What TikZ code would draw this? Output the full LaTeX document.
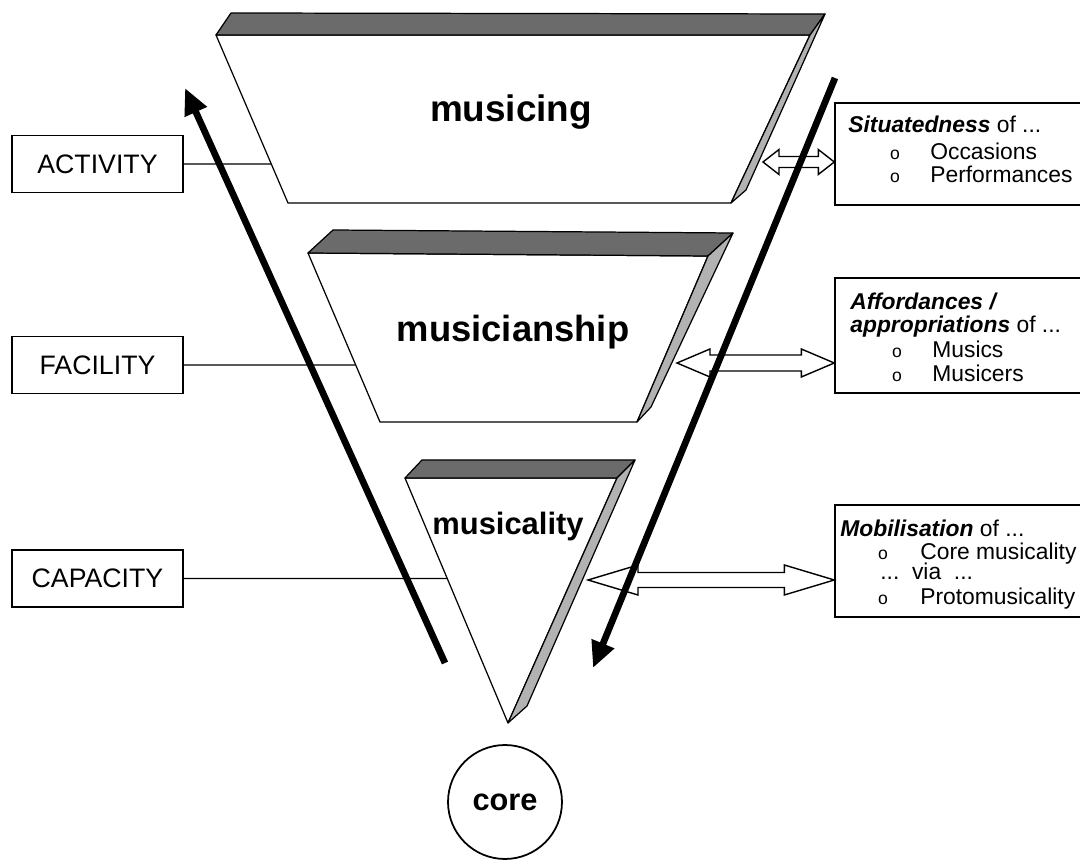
\documentclass[tikz,border=0pt]{standalone}
\usepackage{fontspec}
\setmainfont{Liberation Sans}
\usetikzlibrary{calc,arrows.meta,fit}

% hollow double-headed arrow: #1 left tip, #2 right tip, #3 head length,
% #4 half width of the heads, #5 half width of the shaft
\newcommand\hollowarrow[5]{%
  \draw[hollow] (#1) -- ($(#1)+(#3,-#4)$) -- ($(#1)+(#3,-#5)$)
    -- ($(#2)+(-#3,-#5)$) -- ($(#2)+(-#3,-#4)$) -- (#2)
    -- ($(#2)+(-#3,#4)$) -- ($(#2)+(-#3,#5)$)
    -- ($(#1)+(#3,#5)$) -- ($(#1)+(#3,#4)$) -- cycle;}

\begin{document}
\begin{tikzpicture}[x=0.02cm,y=-0.02cm,
  outline/.style={draw=black, line width=0.7pt, line join=round},
  topface/.style={outline, fill=black!58},
  sideface/.style={outline, fill=black!30},
  frontface/.style={outline, fill=white},
  levelbox/.style={draw, line width=0.8pt, minimum width=3.42cm,
    minimum height=1.14cm, inner sep=0pt, font=\fontsize{15.2pt}{18pt}\selectfont},
  infobox/.style={draw, line width=0.8pt, inner sep=0pt},
  tie/.style={line width=0.8pt},
  rtext/.style={anchor=base west, inner sep=0pt, font=\fontsize{13pt}{15pt}\selectfont},
  bullet/.style={anchor=center, inner sep=0pt, font=\fontsize{10pt}{12pt}\selectfont},
  flow/.style={line width=3.8pt, -{Triangle[length=15pt,width=13pt]}},
  hollow/.style={draw, line width=0.8pt, fill=white, line join=miter},
  slablabel/.style={anchor=base, inner sep=0pt, font=\bfseries\fontsize{#1}{#1}\selectfont},
]
\clip (0,0) rectangle (1080,861);

% ---------- musicing slab ----------
\coordinate (mA) at (216,35);  \coordinate (mB) at (810,35);
\coordinate (mC) at (731,203); \coordinate (mD) at (288,203);
\coordinate (mE) at (231,13);  \coordinate (mF) at (825,14);
\coordinate (mG) at (746,190);
\draw[frontface] (mA) -- (mB) -- (mC) -- (mD) -- cycle;
\draw[topface] (mA) -- (mE) -- (mF) -- (mB) -- cycle;
\draw[sideface] (mB) -- (mF) -- (mG) -- (mC) -- cycle;
\node[slablabel=21pt] (musicing) at (511,122) {musicing};

% ---------- musicianship slab ----------
\coordinate (pA) at (308,253); \coordinate (pB) at (708,256);
\coordinate (pC) at (637,422); \coordinate (pD) at (380,422);
\coordinate (pE) at (333,230); \coordinate (pF) at (733,233);
\coordinate (pG) at (651,407);
\draw[frontface] (pA) -- (pB) -- (pC) -- (pD) -- cycle;
\draw[topface] (pA) -- (pE) -- (pF) -- (pB) -- cycle;
\draw[sideface] (pB) -- (pF) -- (pG) -- (pC) -- cycle;
\node[slablabel=20.7pt] (musicianship) at (513,342) {musicianship};

% ---------- musicality wedge ----------
\coordinate (tA) at (405,478); \coordinate (tB) at (617,478);
\coordinate (tC) at (508,723);
\coordinate (tE) at (422,460); \coordinate (tF) at (635,460);
\coordinate (tG) at (527,706);
\draw[frontface] (tA) -- (tB) -- (tC) -- cycle;
\draw[topface] (tA) -- (tE) -- (tF) -- (tB) -- cycle;
\draw[sideface] (tB) -- (tF) -- (tG) -- (tC) -- cycle;
\node[slablabel=17.6pt] (musicality) at (508,535) {musicality};

% ---------- core ----------
\node[draw, circle, line width=1pt, minimum size=2.28cm, inner sep=0pt,
  font=\bfseries\fontsize{17.5pt}{20pt}\selectfont] (core) at (505,802) {core};

% ---------- level boxes on the left ----------
\node[levelbox] (activity) at (97.5,164) {ACTIVITY};
\node[levelbox] (facility) at (97.5,365) {FACILITY};
\node[levelbox] (capacity) at (97.5,578.5) {CAPACITY};
\draw[tie] (activity.east) -- (intersection of activity.west--activity.east and mA--mD);
\draw[tie] (facility.east) -- (intersection of facility.west--facility.east and pA--pD);
\draw[tie] (capacity.east) -- (intersection of capacity.west--capacity.east and tA--tC);

% ---------- information boxes on the right ----------
\node[infobox, fit={(835,103) (1095,205)}] (situ) {};
\node[rtext] (situH) at (848,133) {\textbf{\textit{Situatedness}} of ...};
\node[bullet] (situB1) at (895,154.5) {o};
\node[rtext] (situT1) at (930,160) {Occasions};
\node[bullet] (situB2) at (895,177.5) {o};
\node[rtext] (situT2) at (930,183) {Performances};

\node[infobox, fit={(835,278) (1095,393)}] (affo) {};
\node[rtext] (affoH1) at (850,310) {\textbf{\textit{Affordances /}}};
\node[rtext] (affoH2) at (850,333) {\textbf{\textit{appropriations}} of ...};
\node[bullet] (affoB1) at (897,352.5) {o};
\node[rtext] (affoT1) at (932,358) {Musics};
\node[bullet] (affoB2) at (897,376.5) {o};
\node[rtext] (affoT2) at (932,382) {Musicers};

\node[infobox, fit={(835,505) (1095,617)}] (mobi) {};
\node[rtext] (mobiH) at (840,537) {\textbf{\textit{Mobilisation}} of ...};
\node[bullet] (mobiB1) at (883,554.5) {o};
\node[rtext] (mobiT1) at (920,560) {Core musicality};
\node[rtext] (mobiV) at (880,580) {...\ \ via\ \ ...};
\node[bullet] (mobiB2) at (883,599.5) {o};
\node[rtext] (mobiT2) at (920,605) {Protomusicality};

% ---------- hollow double arrows ----------
\coordinate (h1) at (763,162);
\coordinate (h2) at (677,363);
\coordinate (h3) at (588,580);
\coordinate (k1) at (situ.west |- h1);
\coordinate (k2) at (affo.west |- h2);
\coordinate (k3) at (mobi.west |- h3);
\hollowarrow{h1}{k1}{16}{12.5}{5.5}
\hollowarrow{h2}{k2}{33}{14}{8}
\hollowarrow{h3}{k3}{50}{15}{7.5}

% ---------- thick flow arrows ----------
\coordinate (upS) at (445,663); \coordinate (upE) at (185,88);
\coordinate (dnS) at (835,78);  \coordinate (dnE) at (593,668);
\draw[flow] (upS) -- (upE);
\draw[flow] (dnS) -- (dnE);
\end{tikzpicture}
\end{document}
